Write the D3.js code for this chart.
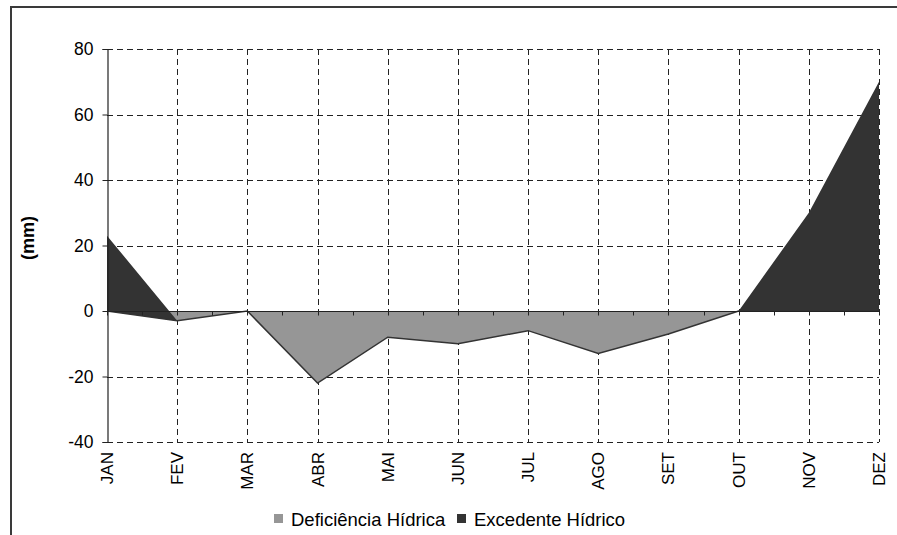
<!DOCTYPE html>
<html>
<head>
<meta charset="utf-8">
<script src="https://cdn.jsdelivr.net/npm/d3@7"></script>
<style>
  html, body { margin: 0; padding: 0; background: #ffffff; }
  svg { display: block; font-family: "Liberation Sans", Arial, sans-serif; }
</style>
</head>
<body>
<svg id="chart" width="897" height="535"></svg>
<script>
const months = ["JAN","FEV","MAR","ABR","MAI","JUN","JUL","AGO","SET","OUT","NOV","DEZ"];
const deficiencia = [0, -3, 0, -22, -8, -10, -6, -13, -7, 0, 0, 0];
const excedente = [23, 0, 0, 0, 0, 0, 0, 0, 0, 0, 30, 70];
const yTicks = [80, 60, 40, 20, 0, -20, -40];
const seriesNames = ["Deficiência Hídrica", "Excedente Hídrico"];
const seriesColors = ["#969696", "#333333"];

const svg = d3.select("#chart");

// outer frame (extends beyond the picture on the right and bottom)
svg.append("rect")
  .attr("x", 11).attr("y", 7).attr("width", 1000).attr("height", 1000)
  .attr("fill", "none").attr("stroke", "#3a3a3a").attr("stroke-width", 2);

const x = d3.scalePoint().domain(months).range([107, 879]);
const y = d3.scaleLinear().domain([-40, 80]).range([442, 49]);

// gridlines
const grid = svg.append("g").attr("stroke", "#222").attr("stroke-width", 1)
  .attr("stroke-dasharray", "6,4").attr("fill", "none");
grid.selectAll("line.h").data(yTicks.filter(v => v !== 0)).join("line")
  .attr("x1", x(months[0])).attr("x2", x(months[months.length - 1]))
  .attr("y1", d => Math.round(y(d)) + 0.5).attr("y2", d => Math.round(y(d)) + 0.5);
grid.selectAll("line.v").data(months.slice(1)).join("line")
  .attr("x1", d => Math.round(x(d)) + 0.5).attr("x2", d => Math.round(x(d)) + 0.5)
  .attr("y1", y(80)).attr("y2", y(-40));

// stacked data
const data = months.map((m, i) => ({ m, def: deficiencia[i], exc: excedente[i] }));

const areaDef = d3.area().x(d => x(d.m)).y0(() => y(0)).y1(d => y(d.def));
const areaExc = d3.area().x(d => x(d.m)).y0(d => y(d.def)).y1(d => y(d.def + d.exc));

svg.append("path").datum(data).attr("d", areaDef).attr("fill", seriesColors[0]);
svg.append("path").datum(data).attr("d", areaExc).attr("fill", seriesColors[1]);
svg.append("path").datum(data)
  .attr("d", d3.line().x(d => x(d.m)).y(d => y(d.def)))
  .attr("fill", "none").attr("stroke", "#333").attr("stroke-width", 1.5);

// y axis
const yAxis = svg.append("g").attr("transform", "translate(107.5,0)")
  .call(d3.axisLeft(y).tickValues(yTicks).tickSize(5).tickPadding(9).tickFormat(d => String(d)));
yAxis.select(".domain").attr("stroke", "#222").attr("stroke-width", 1.2);
yAxis.selectAll(".tick line").attr("stroke", "#222");
yAxis.selectAll(".tick text").attr("font-size", 17.5).attr("fill", "#000")
  .style("font-family", "'Liberation Sans', Arial, sans-serif");

// x axis at zero with ticks at categories and midpoints
const zeroY = Math.round(y(0)) + 0.5;
svg.append("line").attr("x1", x(months[0])).attr("x2", x(months[months.length - 1]))
  .attr("y1", zeroY).attr("y2", zeroY).attr("stroke", "#222").attr("stroke-width", 1.2);
const tickPos = [];
months.forEach((m, i) => {
  tickPos.push(x(m));
  if (i < months.length - 1) tickPos.push((x(m) + x(months[i + 1])) / 2);
});
svg.append("g").selectAll("line").data(tickPos).join("line")
  .attr("x1", d => Math.round(d) + 0.5).attr("x2", d => Math.round(d) + 0.5)
  .attr("y1", zeroY).attr("y2", zeroY + 4).attr("stroke", "#222");

// x labels (rotated)
svg.append("g").selectAll("text").data(months).join("text")
  .attr("transform", d => `translate(${x(d) + 6},452) rotate(-90)`)
  .attr("text-anchor", "end").attr("font-size", 17).attr("fill", "#000")
  .text(d => d);

// y title
svg.append("text").attr("transform", "translate(34,238) rotate(-90)")
  .attr("text-anchor", "middle").attr("font-size", 18).attr("font-weight", "bold")
  .text("(mm)");

// legend
const legend = svg.append("g");
const legX = [274, 457];
seriesNames.forEach((name, i) => {
  legend.append("rect").attr("x", legX[i]).attr("y", 514).attr("width", 9).attr("height", 9)
    .attr("fill", seriesColors[i]);
  legend.append("text").attr("x", legX[i] + 17).attr("y", 526)
    .attr("font-size", 18.5).attr("fill", "#000").text(name);
});
</script>
</body>
</html>
